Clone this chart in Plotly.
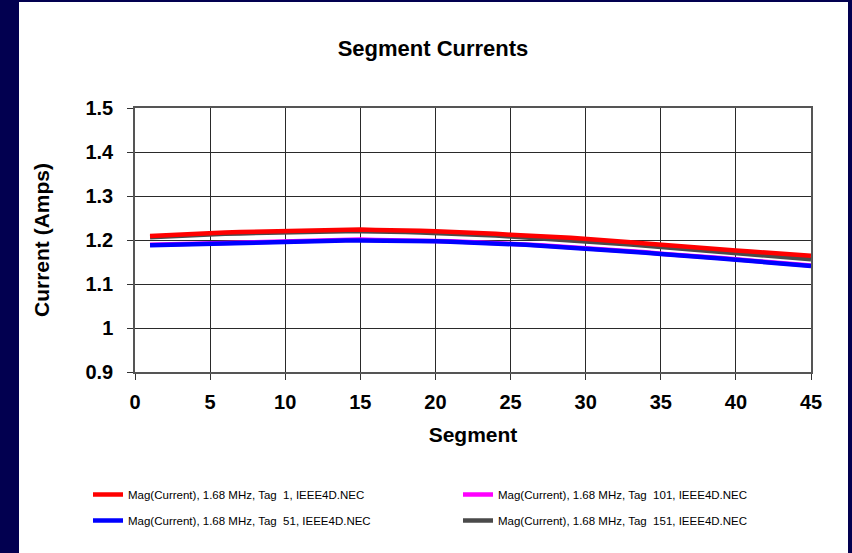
import plotly.graph_objects as go

# Segment index along each wire (NEC segments 1..45)
segments = list(range(1, 46))

# Current magnitude (A) per segment at 1.68 MHz, one list per wire tag
tag1 = [1.209, 1.211, 1.213, 1.214, 1.216, 1.217, 1.218, 1.219, 1.220, 1.221,
        1.222, 1.223, 1.223, 1.224, 1.224, 1.223, 1.223, 1.222, 1.221, 1.220,
        1.219, 1.217, 1.216, 1.214, 1.212, 1.211, 1.209, 1.207, 1.205, 1.203,
        1.200, 1.198, 1.195, 1.192, 1.189, 1.187, 1.184, 1.181, 1.179, 1.176,
        1.174, 1.171, 1.169, 1.166, 1.164]
tag51 = [1.188, 1.189, 1.190, 1.191, 1.192, 1.193, 1.194, 1.195, 1.196, 1.197,
         1.198, 1.198, 1.199, 1.199, 1.199, 1.199, 1.199, 1.198, 1.198, 1.197,
         1.196, 1.195, 1.193, 1.192, 1.190, 1.189, 1.187, 1.185, 1.183, 1.181,
         1.179, 1.176, 1.174, 1.171, 1.168, 1.166, 1.163, 1.160, 1.158, 1.155,
         1.152, 1.150, 1.147, 1.144, 1.141]
tag101 = [1.189, 1.190, 1.191, 1.192, 1.193, 1.194, 1.195, 1.196, 1.197, 1.198,
          1.199, 1.200, 1.200, 1.201, 1.201, 1.200, 1.200, 1.199, 1.199, 1.198,
          1.197, 1.196, 1.194, 1.193, 1.191, 1.190, 1.188, 1.186, 1.184, 1.182,
          1.180, 1.177, 1.175, 1.172, 1.169, 1.167, 1.164, 1.161, 1.159, 1.156,
          1.153, 1.151, 1.148, 1.145, 1.142]
tag151 = [1.206, 1.208, 1.210, 1.211, 1.213, 1.214, 1.215, 1.216, 1.217, 1.218,
          1.219, 1.220, 1.220, 1.220, 1.220, 1.220, 1.219, 1.218, 1.217, 1.216,
          1.215, 1.213, 1.212, 1.210, 1.208, 1.206, 1.204, 1.202, 1.200, 1.198,
          1.195, 1.193, 1.190, 1.187, 1.184, 1.181, 1.178, 1.175, 1.173, 1.170,
          1.167, 1.164, 1.162, 1.159, 1.156]

NB = "\u00a0"
series = [
    # (values, label, colour, legend, rank)
    (tag101, f"Mag(Current), 1.68 MHz, Tag{NB}{NB}101, IEEE4D.NEC", "#ff00ff", "legend2", 1),
    (tag151, f"Mag(Current), 1.68 MHz, Tag{NB}{NB}151, IEEE4D.NEC", "#4a4a4a", "legend2", 2),
    (tag51, f"Mag(Current), 1.68 MHz, Tag{NB}{NB}51, IEEE4D.NEC", "#0000ff", "legend", 2),
    (tag1, f"Mag(Current), 1.68 MHz, Tag{NB}{NB}1, IEEE4D.NEC", "#ff0000", "legend", 1),
]

FONT = "Liberation Sans, Arial, sans-serif"

fig = go.Figure()
for vals, name, col, leg, rank in series:
    fig.add_trace(go.Scatter(
        x=segments, y=vals, mode="lines", name=name,
        line=dict(color=col, width=4.5),
        legend=leg, legendrank=rank, legendgroup=name,
    ))

W, H = 852, 553
L, R, T, B = 135, 41, 108, 181
pw, ph = W - L - R, H - T - B


def px_x(p):
    return (p - L) / pw


def px_y(p):
    return (H - B - p) / ph


# white chart-area panel on the navy page
fig.add_shape(type="rect", xref="paper", yref="paper",
              x0=px_x(19), x1=px_x(848), y0=px_y(556), y1=px_y(2),
              fillcolor="white", line=dict(width=0), layer="below")

axis_common = dict(
    showgrid=True, gridcolor="#2a2a2a", gridwidth=1.2,
    showline=True, linecolor="#555555", linewidth=1.5, mirror=True,
    ticks="outside", ticklen=6, tickcolor="#333333", tickwidth=1,
    zeroline=False,
    tickfont=dict(family=FONT, size=20, color="black", weight="bold"),
)
title_font = dict(family=FONT, size=21, color="black", weight="bold")
legend_font = dict(family=FONT, size=11.5, color="black")

fig.update_layout(
    width=W, height=H,
    margin=dict(l=L, r=R, t=T, b=B, pad=0),
    paper_bgcolor="#020050",
    plot_bgcolor="white",
    title=dict(text="Segment Currents", x=433 / W, xanchor="center",
               y=1 - 48 / H, yanchor="middle",
               font=dict(family=FONT, size=22, color="black", weight="bold")),
    xaxis=dict(range=[0, 45], dtick=5, tick0=0, ticklabelstandoff=5,
               title=dict(text="Segment", standoff=16, font=title_font),
               **axis_common),
    yaxis=dict(range=[0.9, 1.5], dtick=0.1, tick0=0.9, ticklabelstandoff=10,
               title=dict(text="Current (Amps)", standoff=30, font=title_font),
               **axis_common),
    legend=dict(x=px_x(88), y=px_y(480), xanchor="left", yanchor="top",
                orientation="v", tracegroupgap=7, bgcolor="rgba(0,0,0,0)",
                font=legend_font, itemwidth=30),
    legend2=dict(x=px_x(458), y=px_y(480), xanchor="left", yanchor="top",
                 orientation="v", tracegroupgap=7, bgcolor="rgba(0,0,0,0)",
                 font=legend_font, itemwidth=30),
    showlegend=True,
)

fig.write_html("out.html")
